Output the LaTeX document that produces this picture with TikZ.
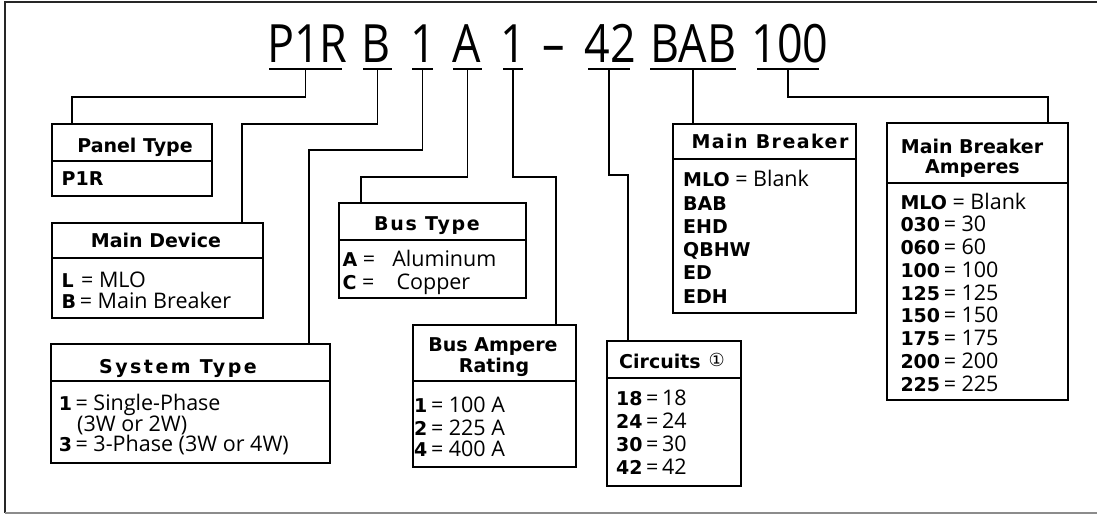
\documentclass[tikz,border=0pt]{standalone}
\usepackage{fontspec}
\setmainfont{Open Sans}
\newfontfamily\dejavu{DejaVu Sans}
\newfontfamily\codefont[FakeStretch=0.85]{Open Sans}
\newcommand\keyb[1]{{\fontsize{19}{23}\dejavu\bfseries #1}}
\tikzset{
  box/.style={draw, line width=1.5pt, anchor=north west, inner sep=0pt, outer sep=0pt},
  wire/.style={line width=1.3pt},
  uline/.style={fill, inner sep=0pt, minimum height=2.8pt},
  codetext/.style={anchor=base, inner sep=0pt, font=\fontsize{52.8}{60}\codefont},
  title/.style={anchor=base, inner sep=0pt, font=\fontsize{19}{22}\dejavu\bfseries},
  item/.style={anchor=base west, inner sep=0pt, font=\fontsize{21.5}{23}\selectfont},
}
\begin{document}
\begin{tikzpicture}[x=1pt,y=-1pt]
  \useasboundingbox (0,0) rectangle (1097,514);
  % frame
  \draw[line width=1.5pt, black!85] (1097,2) -- (5,2) -- (5,513);
  \draw[line width=1.5pt, black!45] (5,513) -- (1097,513);

  % catalog number
  \node[codetext] (kP1R) at (307.5,62) {P1R};
  \node[codetext] (kB) at (376,62) {B};
  \node[codetext] (kSys) at (423,62) {1};
  \node[codetext] (kA) at (467,62) {A};
  \node[codetext] (kAmp) at (513,62) {1};
  \node[codetext] (kDash) at (554,62) {–};
  \node[codetext] (k42) at (610,62) {42};
  \node[codetext] (kBAB) at (693.5,62) {BAB};
  \node[codetext] (k100) at (790,62) {100};

  \node[uline, minimum width=73pt] (uP1R) at (305.5,69) {};
  \node[uline, minimum width=29pt] (uB) at (377.5,69) {};
  \node[uline, minimum width=21pt] (uSys) at (422.5,69) {};
  \node[uline, minimum width=29pt] (uA) at (467.5,69) {};
  \node[uline, minimum width=20pt] (uAmp) at (513,69) {};
  \node[uline, minimum width=42pt] (u42) at (609,69) {};
  \node[uline, minimum width=86pt] (uBAB) at (693,69) {};
  \node[uline, minimum width=62pt] (u100) at (788,69) {};

  % boxes
  \node[box, minimum width=160pt, minimum height=72pt] (panel) at (52,124) {};
  \node[box, minimum width=211pt, minimum height=95pt] (device) at (52,223) {};
  \node[box, minimum width=279pt, minimum height=119pt] (system) at (51,344) {};
  \node[box, minimum width=187pt, minimum height=95pt] (bustype) at (339,203) {};
  \node[box, minimum width=163pt, minimum height=142pt] (busamp) at (413,325) {};
  \node[box, minimum width=183pt, minimum height=189pt] (breaker) at (673,124) {};
  \node[box, minimum width=134pt, minimum height=145pt] (circuits) at (607,341) {};
  \node[box, minimum width=181pt, minimum height=277pt] (bkramp) at (887,123) {};
  \foreach \b/\y in {panel/161, device/258, system/381, bustype/240,
                     busamp/381, breaker/159, circuits/378, bkramp/183}
    \draw[line width=1.5pt] (\b.west |- 0,\y) -- (\b.east |- 0,\y);

  % headings
  \node[title] (panel-t) at (135,152) {Panel Type};
  \node[title] (device-t) at (156,247) {Main Device};
  \node[title] (system-t) at (178,373) {\addfontfeature{LetterSpace=13}System Type};
  \node[title] (bustype-t) at (427,230) {\addfontfeature{LetterSpace=9}Bus Type};
  \node[title] (busamp-t1) at (493,351) {Bus Ampere};
  \node[title] (busamp-t2) at (494,372) {Rating};
  \node[title] (breaker-t) at (770,148) {\addfontfeature{LetterSpace=7.6}Main Breaker};
  \node[title, anchor=base west] (circuits-t) at (619,368)
    {Circuits\hspace{8pt}\raisebox{1.5pt}{\fontsize{18}{18}\dejavu\mdseries ①}};
  \node[title] (bkramp-t1) at (972,153) {Main Breaker};
  \node[title] (bkramp-t2) at (972.5,173) {Amperes};

  % entries
  \node[item] (panel-i) at (61.5,185.5) {\keyb{P1R}};
  \node[item] (device-i1) at (61.5,287) {\keyb{L}\hspace{7.4pt}= MLO};
  \node[item] (device-i2) at (61.5,308.3) {\keyb{B}\,= Main Breaker};
  \node[item] (system-i1) at (58.6,410) {\keyb{1}\,= Single-Phase};
  \node[item] (system-i2) at (77,431) {(3W or 2W)};
  \node[item] (system-i3) at (58.6,451) {\keyb{3}\,= 3-Phase (3W or 4W)};
  \node[item] (bustype-i1) at (342.5,266.5) {\keyb{A} =\hspace{17pt}Aluminum};
  \node[item] (bustype-i2) at (342.5,289) {\keyb{C} =\hspace{22pt}Copper};
  \node[item] (busamp-i1) at (414,412.7) {\keyb{1}\,= 100 A};
  \node[item] (busamp-i2) at (414,435) {\keyb{2}\,= 225 A};
  \node[item] (busamp-i3) at (414,456.7) {\keyb{4}\,= 400 A};
  \foreach \t [count=\i from 0] in {{\keyb{MLO} = Blank},{\keyb{BAB}},{\keyb{EHD}},
                                    {\keyb{QBHW}},{\keyb{ED}},{\keyb{EDH}}}
    \node[item] (breaker-i\i) at (683,186.7+23.3*\i) {\t};
  \foreach \t [count=\i from 0] in {{\keyb{18}\,=\,18},{\keyb{24}\,=\,24},
                                    {\keyb{30}\,=\,30},{\keyb{42}\,=\,42}}
    \node[item] (circuits-i\i) at (616,405+23.3*\i) {\t};
  \foreach \t [count=\i from 0] in {{\keyb{MLO} = Blank},{\keyb{030}\,= 30},
      {\keyb{060}\,= 60},{\keyb{100}\,= 100},{\keyb{125}\,= 125},{\keyb{150}\,= 150},
      {\keyb{175}\,= 175},{\keyb{200}\,= 200},{\keyb{225}\,= 225}}
    \node[item] (bkramp-i\i) at (900.3,209+22.75*\i) {\t};

  % leaders
  \draw[wire] (uP1R.center) -- ++(0,28) -| ([xshift=20pt]panel.north west);
  \draw[wire] (uB.center) -- ++(0,55) -| ([xshift=190pt]device.north west);
  \draw[wire] (uSys.center) -- ++(0,81) -| ([xshift=258pt]system.north west);
  \draw[wire] (uA.center) -- ++(0,108) -| ([xshift=22pt]bustype.north west);
  \draw[wire] (uAmp.center) -- ++(0,108) -| ([xshift=143pt]busamp.north west);
  \draw[wire] (u42.center) -- ++(0,106) -| ([xshift=21pt]circuits.north west);
  \draw[wire] (uBAB.center) -- (uBAB.center |- breaker.north);
  \draw[wire] (u100.center) -- ++(0,28) -| ([xshift=161pt]bkramp.north west);
\end{tikzpicture}
\end{document}
